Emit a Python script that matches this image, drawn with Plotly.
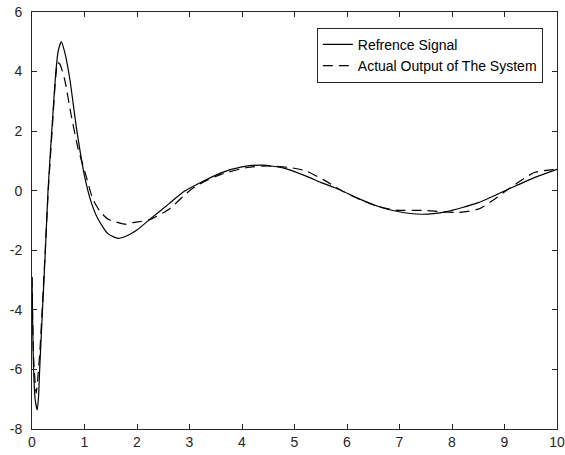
import plotly.graph_objects as go

# Reference signal (solid)
t_ref = [0, 0.03, 0.06, 0.1, 0.125, 0.146, 0.2, 0.255, 0.305, 0.38, 0.455, 0.5, 0.56,
         0.63, 0.72, 0.85, 1.0, 1.13, 1.26, 1.45, 1.64, 1.8, 2.0,
         2.23, 2.6, 2.9, 3.25, 3.6, 4.0, 4.38, 4.8, 5.21, 5.5, 5.84, 6.2, 6.6, 6.92,
         7.42, 7.9, 8.5, 9.07, 9.57, 10]
y_ref = [-2.9, -6.0, -7.0, -7.36, -6.9, -6.0, -4.0, -2.0, 0.0, 2.1, 4.0, 4.7, 5.0,
         4.6, 3.75, 2.07, 0.5, -0.4, -0.96, -1.45, -1.6, -1.52, -1.32,
         -0.98, -0.45, -0.02, 0.31, 0.6, 0.8, 0.86, 0.76, 0.5, 0.28, 0.05, -0.25, -0.53, -0.68,
         -0.79, -0.7, -0.4, 0.05, 0.44, 0.72]

# Actual output of the system (dashed)
t_out = [0, 0.03, 0.08, 0.11, 0.146, 0.2, 0.255, 0.31, 0.39, 0.45, 0.49, 0.53, 0.62,
         0.75, 0.88, 1.03, 1.16, 1.3, 1.45, 1.6, 1.8, 1.92, 2.23, 2.61, 3.0, 3.25, 3.6,
         4.1, 4.5, 4.9, 5.21, 5.59, 5.9, 6.25, 6.6, 6.92, 7.42, 8.12, 8.5, 8.8, 9.07,
         9.57, 10]
y_out = [-2.9, -5.6, -6.8, -6.3, -5.5, -3.8, -1.9, 0.0, 2.2, 3.8, 4.3, 4.25, 3.75,
         2.5, 1.4, 0.5, -0.29, -0.7, -0.96, -1.05, -1.13, -1.07, -0.98, -0.62, 0.0, 0.28, 0.55,
         0.78, 0.83, 0.78, 0.67, 0.33, 0.0, -0.3, -0.53, -0.65, -0.66, -0.73, -0.62, -0.3, 0.05,
         0.61, 0.72]

x_ticks = list(range(0, 11))
y_ticks = [-8, -6, -4, -2, 0, 2, 4, 6]

font_family = "Liberation Sans, Arial, Helvetica, sans-serif"
axis_color = "#262626"

fig = go.Figure()
fig.add_trace(go.Scatter(x=t_ref, y=y_ref, mode="lines", name="Refrence Signal",
                         line=dict(color="black", width=1.2, shape="spline", smoothing=0.6)))
fig.add_trace(go.Scatter(x=t_out, y=y_out, mode="lines", name="Actual Output of The System",
                         line=dict(color="black", width=1.2, dash="10px,6px",
                                   shape="spline", smoothing=0.6)))

axis_common = dict(showline=True, linecolor=axis_color, linewidth=1, mirror="ticks",
                   ticks="inside", ticklen=5, tickcolor=axis_color, showgrid=False,
                   zeroline=False, automargin=False,
                   tickfont=dict(family=font_family, size=14, color=axis_color))

fig.update_xaxes(range=[0, 10], tickvals=x_ticks, ticktext=[str(v) for v in x_ticks],
                 **axis_common)
fig.update_yaxes(range=[-8, 6], tickvals=y_ticks, ticktext=[str(v) for v in y_ticks],
                 ticklabelstandoff=6, **axis_common)

fig.update_layout(
    width=565, height=455,
    margin=dict(l=32, r=8, t=12, b=26),
    paper_bgcolor="white", plot_bgcolor="white",
    showlegend=True,
    legend=dict(x=0.973, y=0.962, xanchor="right", yanchor="top",
                bgcolor="white", bordercolor=axis_color, borderwidth=1,
                font=dict(family=font_family, size=14, color="black"),
                tracegroupgap=0, itemwidth=30),
)

fig.write_html("out.html")
